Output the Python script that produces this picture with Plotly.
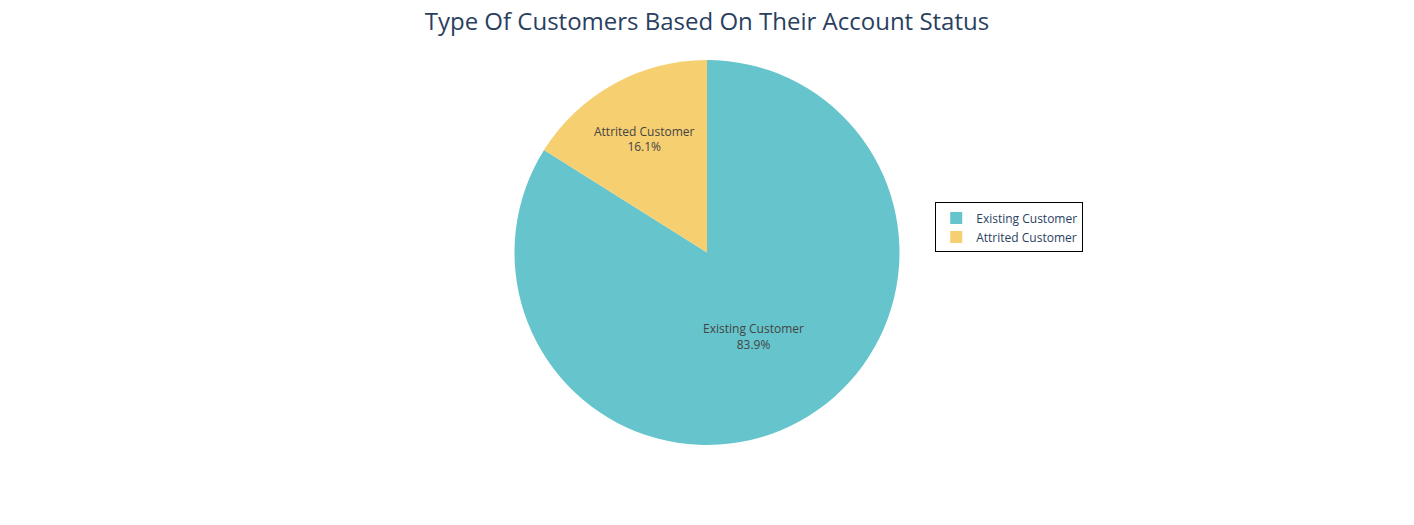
import plotly.graph_objects as go

labels = ["Existing Customer", "Attrited Customer"]
values = [8500, 1627]
colors = ["#66C5CC", "#F6CF71"]

fig = go.Figure(go.Pie(
    labels=labels,
    values=values,
    marker=dict(colors=colors),
    textinfo="label+percent",
    sort=False,
))
fig.update_layout(
    template="plotly_white",
    width=1414, height=525,
    font=dict(family="Open Sans"),
    title=dict(text="Type Of Customers Based On Their Account Status",
               x=0.4943, xanchor="center", y=0.975, yanchor="middle",
               font=dict(size=24)),
    margin=dict(t=52, b=88, l=72, r=88),
    legend=dict(bordercolor="black", borderwidth=1, x=0.682, y=0.565,
                xanchor="left", yanchor="middle"),
)
fig.write_html("out.html")
